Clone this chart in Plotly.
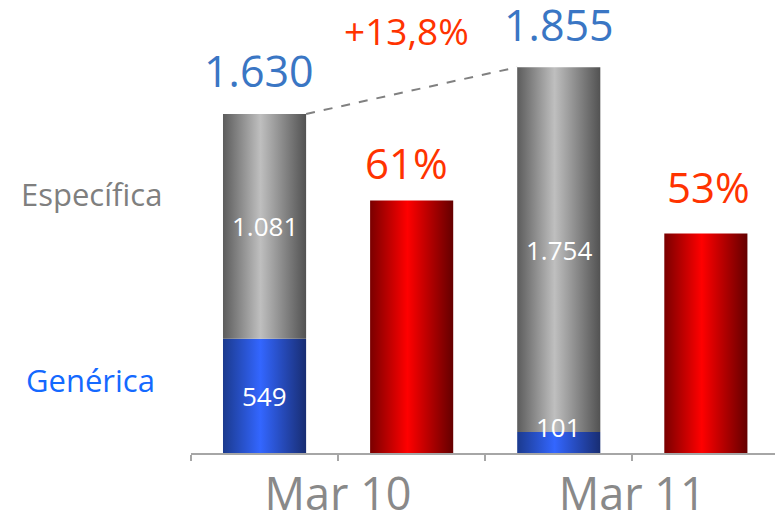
import plotly.graph_objects as go

# ---- data ----
periods = ["Mar 10", "Mar 11"]
generica = [549, 101]
especifica = [1081, 1754]
totals = [1630, 1855]
ratio_pct = [61, 53]
growth_label = "+13,8%"
series_names = ["Específica", "Genérica"]

def fmt(v):
    return f"{v:,}".replace(",", ".")

# ---- positions (category slots) ----
stack_x = [0, 2]
ratio_x = [1, 3]
W = 0.565

GRAY = [[0, '#5c5c5c'], [0.45, '#bfbfbf'], [1, '#525252']]
BLUE = [[0, '#1b3a8e'], [0.45, '#3366ff'], [1, '#182d72']]
RED = [[0, '#7a0000'], [0.45, '#ff0000'], [1, '#640000']]

fig = go.Figure()

def rect(xc, y0, y1, cs, yaxis='y'):
    xs = [xc - W / 2, xc + W / 2, xc + W / 2, xc - W / 2, xc - W / 2]
    ys = [y0, y0, y1, y1, y0]
    fig.add_trace(go.Scatter(
        x=xs, y=ys, mode='lines', fill='toself',
        fillgradient=dict(type='horizontal', colorscale=cs),
        line=dict(width=0), hoverinfo='skip', showlegend=False, yaxis=yaxis))

for i in range(2):
    rect(stack_x[i], 0, generica[i], BLUE)
    rect(stack_x[i], generica[i], generica[i] + especifica[i], GRAY)
    rect(ratio_x[i], 0, ratio_pct[i], RED, yaxis='y2')

# dashed connector between totals
fig.add_trace(go.Scatter(
    x=[stack_x[0] + W / 2, stack_x[1] - W / 2], y=[totals[0], totals[1]],
    mode='lines', line=dict(color='#808080', width=2, dash='dash'),
    hoverinfo='skip', showlegend=False))

FONT = "Open Sans"
L, PW = 191, 584
ann = []
total_xoff = [-6, 0]
for i in range(2):
    ann.append(dict(x=stack_x[i], y=totals[i], text=fmt(totals[i]), xref='x', yref='y',
                    showarrow=False, yanchor='middle', yshift=43, xshift=total_xoff[i],
                    font=dict(family=FONT, size=43, color='#3a76c4')))
    ann.append(dict(x=stack_x[i], y=generica[i] + especifica[i] / 2, text=fmt(especifica[i]),
                    xref='x', yref='y', showarrow=False, yanchor='middle',
                    font=dict(family=FONT, size=26, color='white')))
gen_shift = [0, 16]
for i in range(2):
    ann.append(dict(x=stack_x[i], y=generica[i] / 2, text=fmt(generica[i]), xref='x', yref='y',
                    showarrow=False, yanchor='middle', yshift=gen_shift[i],
                    font=dict(family=FONT, size=26, color='white')))
pct_shift = [38, 47]
pct_xoff = [-5, 3]
for i in range(2):
    ann.append(dict(x=ratio_x[i], y=ratio_pct[i], text=f"{ratio_pct[i]}%", xref='x', yref='y2',
                    showarrow=False, yanchor='middle', yshift=pct_shift[i], xshift=pct_xoff[i],
                    font=dict(family=FONT, size=42, color='#ff3300')))
ann.append(dict(x=0.963, y=totals[1], text=growth_label, xref='x', yref='y', showarrow=False,
                yanchor='middle', yshift=37, font=dict(family=FONT, size=37, color='#ff3300')))
# series labels at left
ann.append(dict(x=(91 - L) / PW, xref='paper', xanchor='center',
                y=generica[0] + especifica[0] / 2, yref='y',
                yshift=32, text=series_names[0], showarrow=False,
                font=dict(family=FONT, size=31, color='#7f7f7f')))
ann.append(dict(x=(90 - L) / PW, xref='paper', xanchor='center', y=generica[0] / 2, yref='y',
                yshift=16, text=series_names[1], showarrow=False,
                font=dict(family=FONT, size=31, color='#1469ff')))

fig.update_layout(
    width=775, height=515,
    margin=dict(l=L, r=775 - L - PW, t=0, b=62, autoexpand=False),
    paper_bgcolor='white', plot_bgcolor='white',
    annotations=ann,
    xaxis=dict(range=[-0.5, 3.47], tickvals=[-0.5, 0.5, 1.5, 2.5, 3.5],
               ticktext=["", periods[0], "", periods[1], ""], automargin=False,
               showgrid=False, zeroline=False, showline=True, linecolor='#a6a6a6', linewidth=2,
               ticks='outside', ticklen=6, tickwidth=2, tickcolor='#a6a6a6',
               ticklabelstandoff=-5,
               tickfont=dict(family=FONT, size=45, color='#898989')),
    yaxis=dict(range=[0, 453 / 0.208], visible=False, fixedrange=True, automargin=False),
    yaxis2=dict(range=[0, 453 / 4.14], overlaying='y', visible=False, automargin=False),
    showlegend=False,
)

fig.write_html("out.html", config={"displayModeBar": False},
               post_script="document.body.style.margin='0';document.body.style.overflow='hidden';")
